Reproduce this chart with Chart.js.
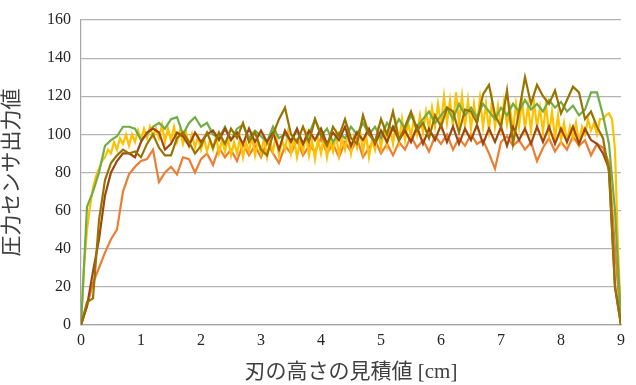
<!DOCTYPE html>
<html>
<head>
<meta charset="utf-8">
<script src="https://cdn.jsdelivr.net/npm/chart.js@4.4.0/dist/chart.umd.min.js"></script>
<style>
  html, body { margin: 0; padding: 0; background: #fff; }
  #wrap { width: 636px; height: 385px; }
</style>
</head>
<body>
<div id="wrap"><canvas id="chart" width="636" height="385"></canvas></div>
<script>
// 刃の高さ (cm) - 0.1 cm 刻み
const heights = [
  0, 0.1, 0.2, 0.3, 0.4, 0.5, 0.6, 0.7, 0.8, 0.9,
  1, 1.1, 1.2, 1.3, 1.4, 1.5, 1.6, 1.7, 1.8, 1.9,
  2, 2.1, 2.2, 2.3, 2.4, 2.5, 2.6, 2.7, 2.8, 2.9,
  3, 3.1, 3.2, 3.3, 3.4, 3.5, 3.6, 3.7, 3.8, 3.9,
  4, 4.1, 4.2, 4.3, 4.4, 4.5, 4.6, 4.7, 4.8, 4.9,
  5, 5.1, 5.2, 5.3, 5.4, 5.5, 5.6, 5.7, 5.8, 5.9,
  6, 6.1, 6.2, 6.3, 6.4, 6.5, 6.6, 6.7, 6.8, 6.9,
  7, 7.1, 7.2, 7.3, 7.4, 7.5, 7.6, 7.7, 7.8, 7.9,
  8, 8.1, 8.2, 8.3, 8.4, 8.5, 8.6, 8.7, 8.8, 8.9,
  9
];

// 黄色の系列だけ 0.05 cm 刻み
const heightsFine = [
  0, 0.05, 0.1, 0.15, 0.2, 0.25, 0.3, 0.35, 0.4, 0.45, 0.5, 0.55, 0.6, 0.65, 0.7, 0.75, 0.8, 0.85, 0.9, 0.95,
  1, 1.05, 1.1, 1.15, 1.2, 1.25, 1.3, 1.35, 1.4, 1.45, 1.5, 1.55, 1.6, 1.65, 1.7, 1.75, 1.8, 1.85, 1.9, 1.95,
  2, 2.05, 2.1, 2.15, 2.2, 2.25, 2.3, 2.35, 2.4, 2.45, 2.5, 2.55, 2.6, 2.65, 2.7, 2.75, 2.8, 2.85, 2.9, 2.95,
  3, 3.05, 3.1, 3.15, 3.2, 3.25, 3.3, 3.35, 3.4, 3.45, 3.5, 3.55, 3.6, 3.65, 3.7, 3.75, 3.8, 3.85, 3.9, 3.95,
  4, 4.05, 4.1, 4.15, 4.2, 4.25, 4.3, 4.35, 4.4, 4.45, 4.5, 4.55, 4.6, 4.65, 4.7, 4.75, 4.8, 4.85, 4.9, 4.95,
  5, 5.05, 5.1, 5.15, 5.2, 5.25, 5.3, 5.35, 5.4, 5.45, 5.5, 5.55, 5.6, 5.65, 5.7, 5.75, 5.8, 5.85, 5.9, 5.95,
  6, 6.05, 6.1, 6.15, 6.2, 6.25, 6.3, 6.35, 6.4, 6.45, 6.5, 6.55, 6.6, 6.65, 6.7, 6.75, 6.8, 6.85, 6.9, 6.95,
  7, 7.05, 7.1, 7.15, 7.2, 7.25, 7.3, 7.35, 7.4, 7.45, 7.5, 7.55, 7.6, 7.65, 7.7, 7.75, 7.8, 7.85, 7.9, 7.95,
  8, 8.05, 8.1, 8.15, 8.2, 8.25, 8.3, 8.35, 8.4, 8.45, 8.5, 8.55, 8.6, 8.65, 8.7, 8.75, 8.8, 8.85, 8.9, 8.95,
  9
];

// 圧力センサ出力値
const oliveValues = [
  0, 12, 14, 55, 76, 85, 89, 92, 90, 91,
  88, 95, 100, 93, 89, 89, 98, 101, 96, 90,
  94, 101, 93, 101, 95, 103, 98, 106, 96, 101,
  92, 89, 100, 108, 114, 100, 96, 104, 96, 108,
  100, 94, 104, 99, 108, 98, 95, 110, 100, 96,
  108, 100, 112, 97, 104, 112, 102, 106, 98, 110,
  104, 114, 112, 101, 113, 112, 106, 121, 126, 110,
  104, 123, 95, 112, 130, 116, 126, 120, 116, 123,
  111, 118, 125, 122, 108, 112, 104, 98, 80, 20,
  0
];

const brownValues = [
  0, 10, 28, 45, 68, 80, 86, 90, 90, 88,
  96, 101, 103, 101, 92, 95, 101, 99, 94, 101,
  96, 100, 102, 97, 103, 97, 101, 95, 103, 96,
  102, 96, 101, 92, 102, 96, 103, 95, 102, 97,
  103, 95, 101, 97, 104, 94, 101, 97, 103, 95,
  102, 96, 104, 97, 102, 96, 104, 95, 103, 97,
  105, 96, 104, 95, 103, 97, 105, 95, 103, 96,
  104, 94, 104, 97, 103, 95, 104, 96, 104, 95,
  103, 96, 104, 95, 103, 97, 95, 90, 82, 20,
  0
];

const greenValues = [
  0, 62, 70, 80, 94, 97, 99, 104, 104, 103,
  97, 100, 104, 106, 103, 108, 109, 100, 106, 109,
  104, 106, 100, 98, 104, 97, 103, 105, 98, 102,
  99, 96, 104, 98, 100, 97, 102, 95, 100, 108,
  99, 103, 96, 101, 98, 104, 100, 106, 100, 104,
  98, 106, 102, 108, 103, 110, 104, 108, 112, 106,
  110, 114, 108, 116, 110, 114, 109, 116, 112, 108,
  114, 110, 116, 112, 118, 113, 116, 112, 118, 114,
  117, 112, 115, 110, 113, 122, 122, 110, 95, 60,
  2
];

const orangeValues = [
  0, 10, 22, 30, 38, 45, 50, 70, 79, 83,
  86, 87, 92, 75, 80, 83, 79, 88, 87, 80,
  87, 90, 84, 93, 88, 92, 86, 95, 89, 94,
  88, 96, 90, 85, 94, 90, 97, 89, 94, 91,
  98, 90, 95, 88, 96, 91, 98, 88, 93, 97,
  90, 95, 89, 96, 92, 99, 93, 97, 91, 99,
  95, 100, 92, 98, 94, 100, 95, 97, 90, 82,
  96, 99, 94, 97, 92, 96, 86, 93, 98, 91,
  96, 92, 99, 94, 97, 89, 95, 93, 85, 40,
  0
];

const yellowValues = [
  0, 30, 50, 62, 72, 78, 82, 86, 88, 92, 90, 96, 92, 98, 95, 100, 94, 100, 96, 102,
  97, 103, 98, 104, 99, 103, 98, 105, 96, 103, 97, 104, 96, 102, 95, 101, 94, 100, 93, 99,
  92, 98, 91, 97, 92, 99, 90, 97, 91, 98, 89, 96, 90, 98, 88, 96, 91, 99, 89, 97,
  90, 98, 88, 96, 91, 100, 89, 97, 92, 101, 90, 98, 88, 96, 91, 100, 89, 97, 87, 98,
  90, 99, 88, 97, 91, 100, 89, 98, 92, 101, 90, 99, 93, 102, 91, 100, 88, 97, 92, 102,
  93, 103, 94, 104, 95, 106, 96, 108, 97, 106, 99, 108, 100, 110, 101, 112, 103, 114, 104, 116,
  105, 120, 106, 118, 104, 122, 106, 120, 104, 118, 103, 116, 105, 119, 104, 116, 102, 118, 104, 115,
  103, 117, 105, 114, 102, 116, 104, 118, 103, 115, 102, 117, 104, 114, 101, 116, 100, 112, 98, 110,
  97, 106, 96, 104, 98, 106, 95, 104, 100, 108, 102, 106, 100, 108, 108, 110, 111, 108, 92, 40,
  2
];

const xTicks = [0, 1, 2, 3, 4, 5, 6, 7, 8, 9];
const yTicks = [0, 20, 40, 60, 80, 100, 120, 140, 160];

// 描画順: 先頭のデータセットが最前面
const seriesList = [
  { values: oliveValues, xs: heights, color: '#997300' },
  { values: brownValues, xs: heights, color: '#9E480E' },
  { values: greenValues, xs: heights, color: '#70AD47' },
  { values: yellowValues, xs: heightsFine, color: '#FFC000' },
  { values: orangeValues, xs: heights, color: '#ED7D31' }
];

const serif = "'Liberation Serif', 'Times New Roman', serif";
const titleFont = "'Liberation Serif', 'Noto Sans CJK JP', serif";

const datasets = seriesList.map(s => ({
  data: s.values.map((v, i) => ({ x: s.xs[i], y: v })),
  borderColor: s.color,
  backgroundColor: s.color,
  borderWidth: 2.2,
  pointRadius: 0,
  tension: 0,
  fill: false
}));

new Chart(document.getElementById('chart'), {
  type: 'line',
  data: { datasets: datasets },
  options: {
    responsive: false,
    animation: false,
    layout: { padding: { top: 20, right: 15, left: 0, bottom: 0 } },
    plugins: {
      legend: { display: false },
      tooltip: { enabled: false }
    },
    scales: {
      x: {
        type: 'linear',
        min: 0,
        max: 9,
        afterBuildTicks: scale => { scale.ticks = xTicks.map(v => ({ value: v })); },
        afterFit: scale => { scale.height = 60; },
        grid: { display: false, drawTicks: false },
        border: { display: true, color: '#A6A6A6', width: 1.2 },
        ticks: {
          color: '#262626',
          font: { family: serif, size: 16 },
          padding: 6,
          maxRotation: 0
        },
        title: {
          display: true,
          text: '刃の高さの見積値 [cm]',
          color: '#404040',
          font: { family: titleFont, size: 21 },
          padding: { top: 0, bottom: 0 }
        }
      },
      y: {
        min: 0,
        max: 160,
        afterBuildTicks: scale => { scale.ticks = yTicks.map(v => ({ value: v })); },
        afterFit: scale => { scale.width = 81; },
        grid: { color: '#B3B3B3', lineWidth: 1.2, drawTicks: false },
        border: { display: true, color: '#A6A6A6', width: 1.2 },
        ticks: {
          color: '#262626',
          font: { family: serif, size: 16 },
          padding: 10
        },
        title: {
          display: true,
          text: '圧力センサ出力値',
          color: '#404040',
          font: { family: titleFont, size: 21 },
          padding: { top: 0, bottom: 4 }
        }
      }
    }
  }
});
</script>
</body>
</html>
